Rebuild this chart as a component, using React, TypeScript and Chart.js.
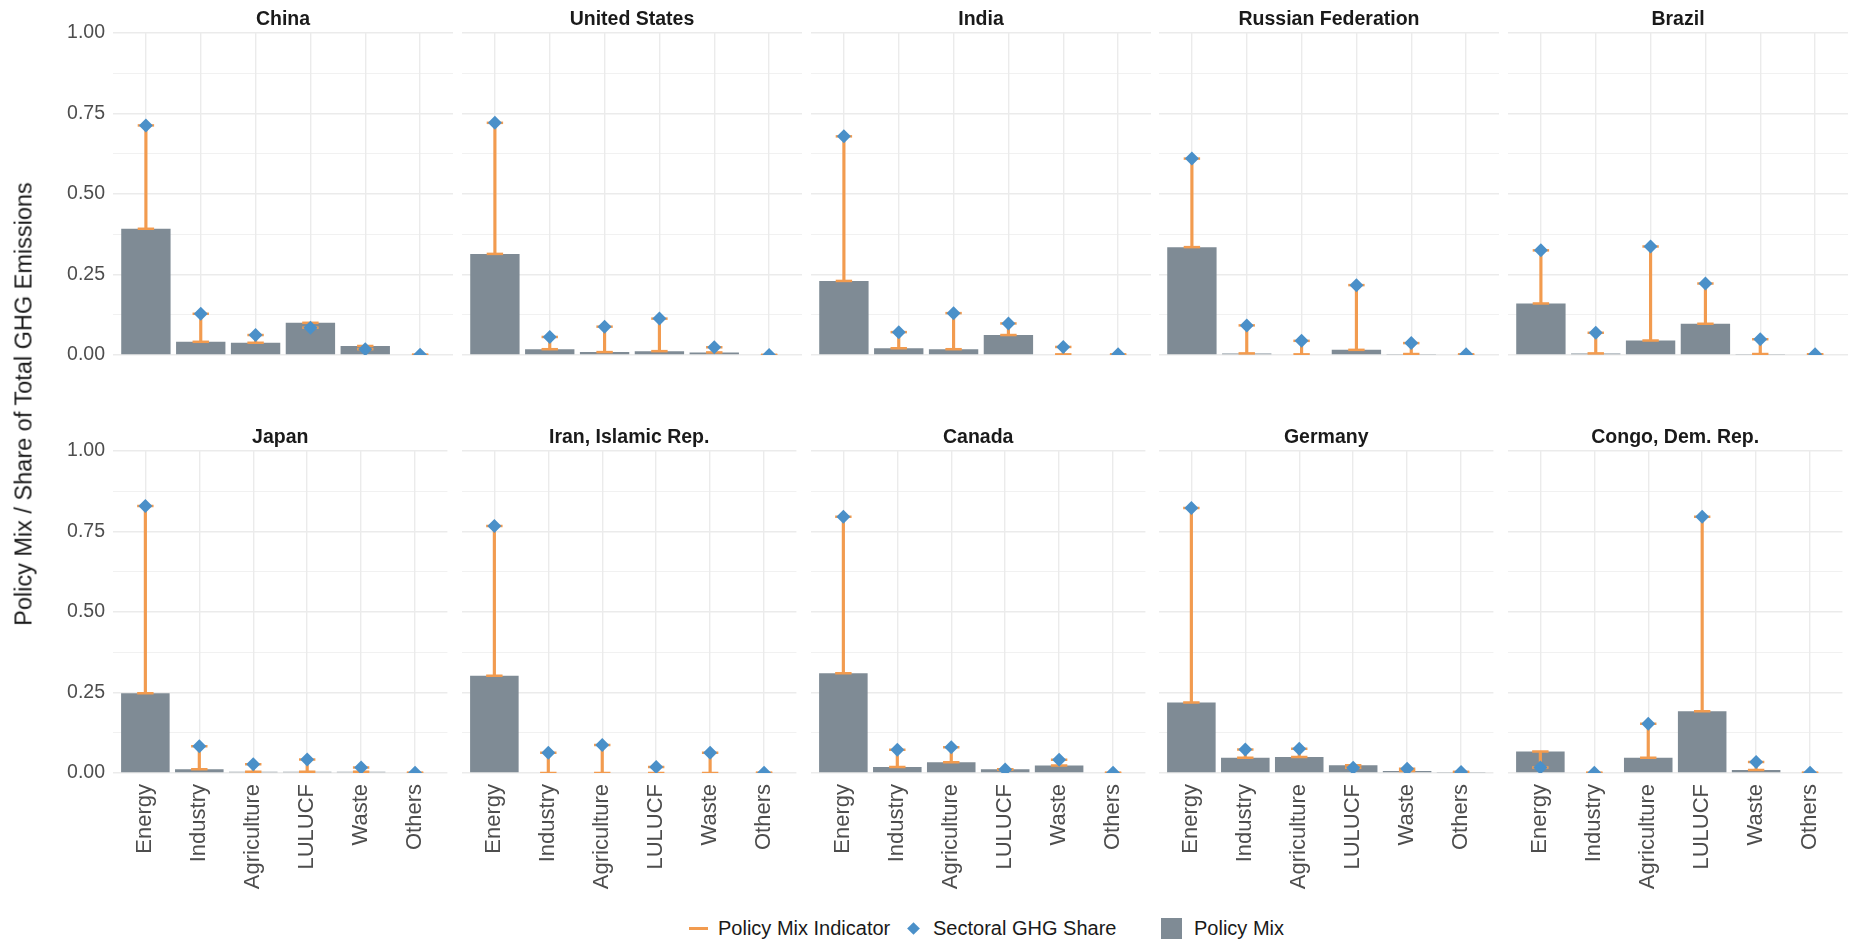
import React, { useEffect, useRef } from 'react';
import { Chart, registerables } from 'chart.js';

Chart.register(...registerables);

// Sectors shown on every panel's x axis
const SECTORS = ['Energy', 'Industry', 'Agriculture', 'LULUCF', 'Waste', 'Others'];

// Y gridline positions (majors carry labels, minors are unlabeled)
const Y_TICKS = [0, 0.125, 0.25, 0.375, 0.5, 0.625, 0.75, 0.875, 1];

// Policy mix share by sector (bars) and sectoral share of total GHG emissions (diamonds)
const chinaMix = [0.392, 0.041, 0.038, 0.1, 0.028, 0.0];
const chinaShare = [0.713, 0.128, 0.062, 0.085, 0.018, 0.001];

const usMix = [0.314, 0.018, 0.009, 0.012, 0.008, 0.0];
const usShare = [0.721, 0.056, 0.088, 0.113, 0.024, 0.0];

const indiaMix = [0.23, 0.021, 0.018, 0.062, 0.002, 0.0];
const indiaShare = [0.679, 0.071, 0.13, 0.098, 0.025, 0.002];

const russiaMix = [0.335, 0.005, 0.002, 0.016, 0.003, 0.0];
const russiaShare = [0.61, 0.092, 0.044, 0.217, 0.037, 0.002];

const brazilMix = [0.16, 0.005, 0.045, 0.097, 0.003, 0.002];
const brazilShare = [0.325, 0.069, 0.337, 0.222, 0.049, 0.002];

const japanMix = [0.248, 0.012, 0.004, 0.004, 0.004, 0.0];
const japanShare = [0.829, 0.083, 0.027, 0.042, 0.017, 0.001];

const iranMix = [0.302, 0.0, 0.0, 0.0, 0.0, 0.0];
const iranShare = [0.767, 0.063, 0.087, 0.019, 0.063, 0.001];

const canadaMix = [0.31, 0.019, 0.033, 0.012, 0.023, 0.0];
const canadaShare = [0.796, 0.072, 0.08, 0.011, 0.041, 0.001];

const germanyMix = [0.219, 0.047, 0.05, 0.024, 0.006, 0.003];
const germanyShare = [0.823, 0.073, 0.075, 0.016, 0.013, 0.003];

const congoMix = [0.067, 0.0, 0.047, 0.192, 0.009, 0.0];
const congoShare = [0.017, 0.001, 0.153, 0.796, 0.034, 0.001];

const PANELS = [
  { country: 'China', mix: chinaMix, share: chinaShare },
  { country: 'United States', mix: usMix, share: usShare },
  { country: 'India', mix: indiaMix, share: indiaShare },
  { country: 'Russian Federation', mix: russiaMix, share: russiaShare },
  { country: 'Brazil', mix: brazilMix, share: brazilShare },
  { country: 'Japan', mix: japanMix, share: japanShare },
  { country: 'Iran, Islamic Rep.', mix: iranMix, share: iranShare },
  { country: 'Canada', mix: canadaMix, share: canadaShare },
  { country: 'Germany', mix: germanyMix, share: germanyShare },
  { country: 'Congo, Dem. Rep.', mix: congoMix, share: congoShare },
];

const FONT = '"Liberation Sans", Arial, Helvetica, sans-serif';
const COLORS = {
  bar: '#7F8B95',
  indicator: '#F29B4F',
  share: '#4A90C9',
  grid: '#EBEBEB',
  tick: '#4D4D4D',
  strip: '#1A1A1A',
  text: '#1A1A1A',
};

// Facet grid geometry
const PANEL_W = 340;
const PANEL_H = 322;
const STRIP_H = 33;
const Y_AXIS_W = 113;
const X_AXIS_H = 135;
const TOP_X_AXIS_H = 24;
const COL_LEFT = [113, 462, 811, 1159, 1508];
const ROW_TOP = [33, 451];

const isMajor = (v: number) => Math.abs(v * 4 - Math.round(v * 4)) < 1e-6;

function Panel({ index }: { index: number }) {
  const ref = useRef<HTMLCanvasElement | null>(null);
  const col = index % 5;
  const row = Math.floor(index / 5);
  const showY = col === 0;
  const showX = row === 1;
  const left = showY ? 0 : COL_LEFT[col];
  const width = showY ? COL_LEFT[0] + PANEL_W : PANEL_W;
  const top = ROW_TOP[row] - STRIP_H;
  const xAxisH = showX ? X_AXIS_H : TOP_X_AXIS_H;
  const height = STRIP_H + PANEL_H + xAxisH;

  useEffect(() => {
    const { country, mix, share } = PANELS[index];
    const bars = mix.map((v, i) => ({ x: i, y: v }));
    const ranges = mix.map((v, i) => ({ x: i, y: [v, share[i]] }));
    const caps = mix.flatMap((v, i) => [
      { x: i, y: v },
      { x: i, y: share[i] },
    ]);
    const points = share.map((v, i) => ({ x: i, y: v }));

    const chart = new Chart(ref.current as HTMLCanvasElement, {
      type: 'bar',
      data: {
        datasets: [
          {
            label: 'Policy Mix',
            data: bars as any,
            backgroundColor: COLORS.bar,
            borderWidth: 0,
            barPercentage: 0.9,
            categoryPercentage: 1,
            grouped: false,
            order: 4,
          },
          {
            label: 'Policy Mix Indicator',
            data: ranges as any,
            backgroundColor: COLORS.indicator,
            borderWidth: 0,
            barThickness: 2.5,
            grouped: false,
            order: 3,
          },
          {
            type: 'scatter',
            label: 'Policy Mix Indicator caps',
            data: caps as any,
            pointStyle: 'line',
            pointRadius: 8.2,
            pointHoverRadius: 8.2,
            pointBorderColor: COLORS.indicator,
            pointBorderWidth: 2.5,
            order: 2,
          } as any,
          {
            type: 'scatter',
            label: 'Sectoral GHG Share',
            data: points as any,
            pointStyle: 'rectRot',
            pointRadius: 7,
            pointHoverRadius: 7,
            pointBackgroundColor: COLORS.share,
            pointBorderWidth: 0,
            order: 1,
          } as any,
        ],
      },
      options: {
        responsive: false,
        maintainAspectRatio: false,
        animation: false,
        events: [],
        layout: { padding: 0, autoPadding: false },
        plugins: {
          legend: { display: false },
          tooltip: { enabled: false },
          title: {
            display: true,
            text: country,
            fullSize: false,
            color: COLORS.strip,
            font: { family: FONT, size: 19.5, weight: 'bold', lineHeight: 1.2 },
            padding: { top: 7.5, bottom: 2.1 },
          },
        },
        scales: {
          x: {
            type: 'linear',
            min: -0.6,
            max: 5.6,
            bounds: 'data',
            offset: false,
            grid: { offset: false, color: COLORS.grid, lineWidth: 1.4, drawTicks: false },
            border: { display: false },
            afterBuildTicks: (scale: any) => {
              scale.ticks = SECTORS.map((_, i) => ({ value: i }));
            },
            afterFit: (scale: any) => {
              scale.height = xAxisH;
            },
            ticks: {
              display: showX,
              autoSkip: false,
              minRotation: 90,
              maxRotation: 90,
              padding: 11,
              color: COLORS.tick,
              font: { family: FONT, size: 22 },
              callback: (v: any) => SECTORS[v as number] ?? '',
            },
          },
          y: {
            type: 'linear',
            min: 0,
            max: 1,
            bounds: 'data',
            grid: {
              color: COLORS.grid,
              lineWidth: (ctx: any) => (ctx.tick && isMajor(ctx.tick.value) ? 1.4 : 0.7),
              drawTicks: false,
            },
            border: { display: false },
            afterBuildTicks: (scale: any) => {
              scale.ticks = Y_TICKS.map((v) => ({ value: v }));
            },
            afterFit: (scale: any) => {
              scale.width = showY ? Y_AXIS_W : 0;
            },
            ticks: {
              display: showY,
              padding: 8,
              color: COLORS.tick,
              font: { family: FONT, size: 19.5 },
              callback: (v: any) => (isMajor(v as number) ? (v as number).toFixed(2) : ''),
            },
          },
        },
      } as any,
    });
    return () => chart.destroy();
  }, [index]);

  return (
    <canvas
      ref={ref}
      width={width}
      height={height}
      style={{ position: 'absolute', left, top, width, height, display: 'block' }}
    />
  );
}

const legendText: React.CSSProperties = {
  position: 'absolute',
  top: 928 - 12,
  height: 24,
  lineHeight: '24px',
  fontFamily: FONT,
  fontSize: 20,
  color: COLORS.text,
  whiteSpace: 'nowrap',
};

export default function App() {
  return (
    <div
      style={{
        position: 'absolute',
        left: 0,
        top: 0,
        width: 1857,
        height: 944,
        background: '#FFFFFF',
        overflow: 'hidden',
      }}
    >
      {PANELS.map((_, i) => (
        <Panel key={i} index={i} />
      ))}

      <div
        style={{
          position: 'absolute',
          left: 24,
          top: 404,
          transform: 'translate(-50%, -50%) rotate(-90deg)',
          fontFamily: FONT,
          fontSize: 23.5,
          color: COLORS.text,
          whiteSpace: 'nowrap',
        }}
      >
        Policy Mix / Share of Total GHG Emissions
      </div>

      <div style={{ position: 'absolute', left: 689, top: 927, width: 19, height: 2.5, background: COLORS.indicator }} />
      <div style={{ ...legendText, left: 718 }}>Policy Mix Indicator</div>
      <div
        style={{
          position: 'absolute',
          left: 913 - 4.5,
          top: 928 - 4.5,
          width: 9,
          height: 9,
          background: COLORS.share,
          transform: 'rotate(45deg)',
        }}
      />
      <div style={{ ...legendText, left: 933 }}>Sectoral GHG Share</div>
      <div style={{ position: 'absolute', left: 1161, top: 918, width: 21, height: 21, background: COLORS.bar }} />
      <div style={{ ...legendText, left: 1194 }}>Policy Mix</div>
    </div>
  );
}
